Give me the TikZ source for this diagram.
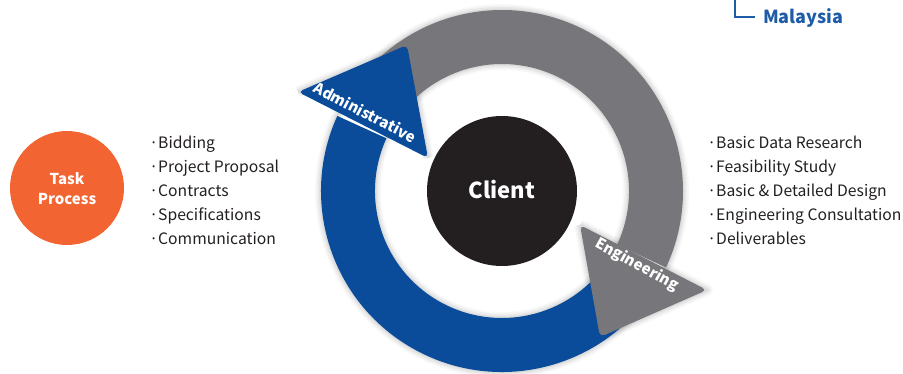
\documentclass[tikz,border=0pt]{standalone}
\usepackage{fontspec}
\setmainfont{Noto Sans CJK KR}
\usetikzlibrary{calc}
\definecolor{ringblue}{HTML}{0A4C9A}
\definecolor{ringgrey}{HTML}{77777B}
\definecolor{clientblack}{HTML}{231F20}
\definecolor{taskorange}{HTML}{F26533}
\definecolor{textdark}{HTML}{231F20}
\definecolor{labelblue}{HTML}{1F5CA8}
\tikzset{
  item/.style={anchor=base west, inner sep=0pt, text=textdark, font=\fontsize{15.7}{24}\selectfont},
  arrowlbl/.style={inner sep=0pt, text=white, font=\fontsize{15}{18}\selectfont\bfseries}
}
\newcommand{\itm}[1]{\makebox[9pt][c]{·}#1}
\begin{document}
\begin{tikzpicture}[x=1pt,y=1pt]
\useasboundingbox (0,0) rectangle (903,-374);
\coordinate (O) at (502,-191);
% arrowhead corners
\coordinate (A) at (298,-92);
\coordinate (B) at (407,-45);
\coordinate (C) at (428,-158);
\coordinate (P) at (580,-225);
\coordinate (Q) at (707,-290);
\coordinate (R) at (600,-337);
% soft shadow
\foreach \w/\o in {12/0.025, 9/0.03, 6/0.04, 3/0.05} {
  \begin{scope}[shift={(1.5,-2.5)}]
    \draw[black, opacity=\o, line width=\w] (O) circle (181);
    \draw[black, opacity=\o, line width=\w] (O) circle (127);
    \draw[black, opacity=\o, line width=\w, line join=round] (A) -- (B) -- (C);
    \draw[black, opacity=\o, line width=\w, line join=round] (P) -- (Q) -- (R) -- (P);
  \end{scope}
}
% blue arc body
\fill[ringblue] ($(O)+(-30:181)$) arc[start angle=-30, end angle=-204.5, radius=181]
  -- ($(O)+(155.5:127)$) arc[start angle=-204.5, end angle=-30, radius=127] -- cycle;
% grey arc body
\fill[ringgrey] ($(O)+(140:181)$) arc[start angle=140, end angle=-25, radius=181]
  -- ($(O)+(-25:127)$) arc[start angle=-25, end angle=140, radius=127] -- cycle;
% arrowheads
\fill[ringblue, rounded corners=5pt] (A) -- (B) -- (C) -- cycle;
\fill[ringgrey, rounded corners=5pt] (P) -- (Q) -- (R) -- cycle;
\node[arrowlbl, rotate=-27.5] (adm) at (365,-112) {Administrative};
\node[arrowlbl, rotate=-29] (eng) at (637,-265) {Engineering};
% client
\node[circle, fill=clientblack, minimum size=150pt, inner sep=0pt] (client) at (O) {};
\node[text=white, font=\fontsize{22}{26}\selectfont\bfseries, inner sep=0pt] (clientlbl) at (502,-190) {Client};
% task process
\node[circle, fill=taskorange, minimum size=114pt, inner sep=0pt] (task) at (67,-188) {};
\node[text=white, align=center, font=\fontsize{15}{20}\selectfont\bfseries, inner sep=0pt] (tasklbl) at (67,-189) {Task\\Process};
% left list
\node[item] (l1) at (149,-149) {\itm{Bidding}};
\node[item] (l2) at (149,-173) {\itm{Project Proposal}};
\node[item] (l3) at (149,-197) {\itm{Contracts}};
\node[item] (l4) at (149,-221) {\itm{Specifications}};
\node[item] (l5) at (149,-245) {\itm{Communication}};
% right list
\node[item] (r1) at (707,-149) {\itm{Basic Data Research}};
\node[item] (r2) at (707,-173) {\itm{Feasibility Study}};
\node[item] (r3) at (707,-197) {\itm{Basic \& Detailed Design}};
\node[item] (r4) at (707,-221) {\itm{Engineering Consultation}};
\node[item] (r5) at (707,-245) {\itm{Deliverables}};
% Malaysia
\coordinate (mtop) at (735,0);
\coordinate (mend) at (755,-17);
\draw[labelblue, line width=1.8pt] (mtop) |- (mend);
\node[anchor=base west, inner sep=0pt, text=labelblue, font=\fontsize{18}{22}\selectfont\bfseries] (my) at (763,-24) {Malaysia};
\end{tikzpicture}
\end{document}
